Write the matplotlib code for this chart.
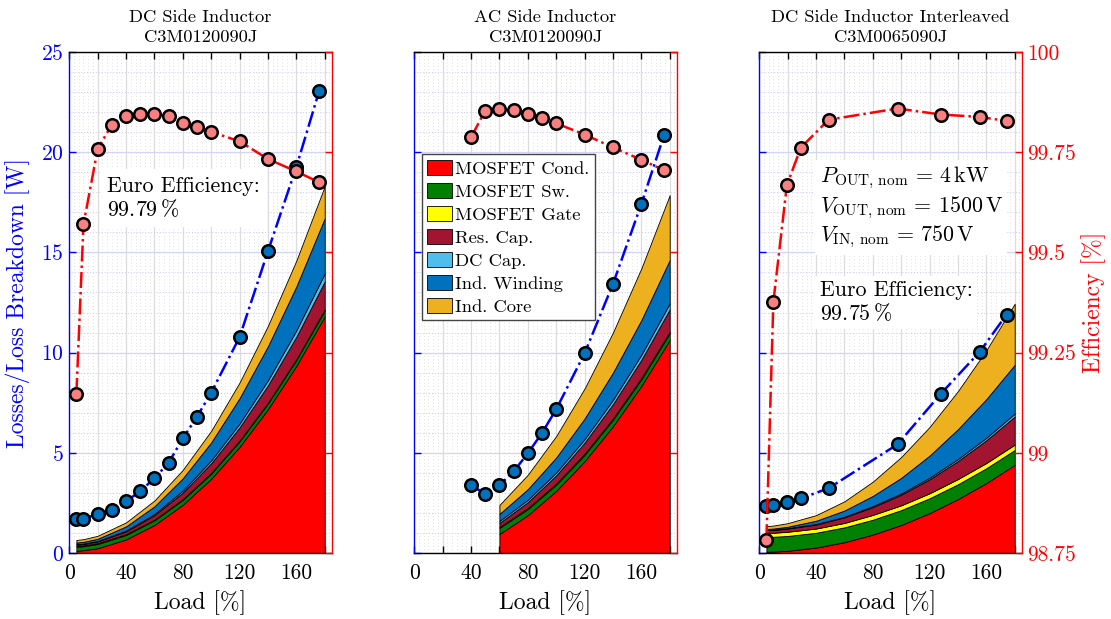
import numpy as np
import matplotlib
matplotlib.use('Agg')
import matplotlib.pyplot as plt
from matplotlib.ticker import MultipleLocator, FuncFormatter

plt.rcParams['font.family'] = ['cmr10', 'DejaVu Serif']
plt.rcParams['mathtext.fontset'] = 'cm'
plt.rcParams['axes.formatter.use_mathtext'] = True
plt.rcParams['axes.unicode_minus'] = False

# ---------------- data ----------------
components = ['MOSFET Cond.', 'MOSFET Sw.', 'MOSFET Gate', 'Res. Cap.',
              'DC Cap.', 'Ind. Winding', 'Ind. Core']
comp_colors = ['#FF0000', '#008000', '#FFFF00', '#A2142F',
               '#4DBEEE', '#0072BD', '#EDB120']

titles = ['DC Side Inductor\nC3M0120090J',
          'AC Side Inductor\nC3M0120090J',
          'DC Side Inductor Interleaved\nC3M0065090J']

# Panel 1 : DC side inductor
p1_load_meas = [5, 10, 20, 30, 40, 50, 60, 70, 80, 90, 100, 120, 140, 160, 176]
p1_losses = [1.71, 1.70, 1.95, 2.14, 2.57, 3.09, 3.73, 4.50, 5.72, 6.80, 8.00,
             10.77, 15.06, 19.26, 23.03]
p1_eff = [99.147, 99.570, 99.758, 99.819, 99.840, 99.846, 99.846, 99.840,
          99.822, 99.813, 99.801, 99.777, 99.733, 99.702, 99.675]
p1_load_stack = [5, 10, 20, 40, 60, 80, 100, 120, 140, 160, 180]
p1_cond = [0.11, 0.14, 0.24, 0.68, 1.40, 2.41, 3.71, 5.30, 7.18, 9.34, 11.80]
p1_sw = [0.20, 0.20, 0.21, 0.22, 0.23, 0.24, 0.25, 0.27, 0.28, 0.29, 0.30]
p1_gate = [0.04, 0.04, 0.04, 0.04, 0.04, 0.04, 0.04, 0.04, 0.04, 0.04, 0.05]
p1_rescap = [0.07, 0.07, 0.09, 0.14, 0.22, 0.33, 0.48, 0.66, 0.87, 1.12, 1.40]
p1_dccap = [0.02, 0.02, 0.02, 0.04, 0.06, 0.10, 0.14, 0.19, 0.25, 0.32, 0.40]
p1_wind = [0.08, 0.09, 0.11, 0.21, 0.38, 0.61, 0.90, 1.27, 1.70, 2.19, 2.75]
p1_core = [0.13, 0.13, 0.15, 0.20, 0.29, 0.42, 0.58, 0.78, 1.02, 1.29, 1.60]
p1_euro = 'Euro Efficiency:\n$99.79\\,\\%$'

# Panel 2 : AC side inductor
p2_load_meas = [40, 50, 60, 70, 80, 90, 100, 120, 140, 160, 176]
p2_losses = [3.40, 2.93, 3.38, 4.07, 4.97, 5.99, 7.17, 9.96, 13.42, 17.41, 20.85]
p2_eff = [99.787, 99.854, 99.859, 99.856, 99.845, 99.835, 99.822, 99.794,
          99.762, 99.731, 99.705]
p2_load_stack = [60, 80, 100, 120, 140, 160, 180]
p2_cond = [0.95, 1.89, 3.10, 4.58, 6.33, 8.34, 10.63]
p2_sw = [0.30, 0.305, 0.31, 0.315, 0.32, 0.325, 0.33]
p2_gate = [0.05, 0.053, 0.057, 0.06, 0.063, 0.067, 0.07]
p2_rescap = [0.20, 0.29, 0.41, 0.55, 0.72, 0.91, 1.13]
p2_dccap = [0.10, 0.12, 0.14, 0.175, 0.21, 0.25, 0.30]
p2_wind = [0.35, 0.53, 0.75, 1.03, 1.36, 1.73, 2.16]
p2_core = [0.45, 0.72, 1.07, 1.50, 2.00, 2.58, 3.24]

# Panel 3 : DC side inductor interleaved
p3_load_meas = [5, 9.9, 19.4, 29.2, 48.8, 97.4, 128, 155.5, 174.3]
p3_losses = [2.35, 2.41, 2.55, 2.72, 3.23, 5.42, 7.95, 10.05, 11.90]
p3_eff = [98.782, 99.376, 99.667, 99.761, 99.831, 99.859, 99.844, 99.838, 99.828]
p3_load_stack = [5, 10, 20, 40, 60, 80, 100, 120, 140, 160, 180]
p3_cond = [0.06, 0.07, 0.11, 0.27, 0.54, 0.92, 1.40, 1.99, 2.69, 3.49, 4.40]
p3_sw = [0.74, 0.74, 0.74, 0.74, 0.74, 0.74, 0.74, 0.74, 0.74, 0.74, 0.74]
p3_gate = [0.20, 0.20, 0.21, 0.21, 0.22, 0.24, 0.24, 0.25, 0.26, 0.26, 0.27]
p3_rescap = [0.14, 0.14, 0.16, 0.20, 0.28, 0.39, 0.53, 0.70, 0.90, 1.14, 1.40]
p3_dccap = [0.02, 0.02, 0.02, 0.03, 0.03, 0.05, 0.06, 0.08, 0.10, 0.12, 0.15]
p3_wind = [0.04, 0.05, 0.07, 0.16, 0.31, 0.51, 0.78, 1.10, 1.49, 1.93, 2.43]
p3_core = [0.14, 0.15, 0.18, 0.28, 0.46, 0.71, 1.04, 1.43, 1.90, 2.44, 3.05]
p3_specs = ('$P_{\\mathrm{OUT,\\,nom}}\\,=\\,4\\,\\mathrm{kW}$\n'
            '$V_{\\mathrm{OUT,\\,nom}}\\,=\\,1500\\,\\mathrm{V}$\n'
            '$V_{\\mathrm{IN,\\,nom}}\\,=\\,750\\,\\mathrm{V}$')
p3_euro = 'Euro Efficiency:\n$99.75\\,\\%$'

panels = [
    dict(lm=p1_load_meas, loss=p1_losses, eff=p1_eff, ls=p1_load_stack,
         stack=[p1_cond, p1_sw, p1_gate, p1_rescap, p1_dccap, p1_wind, p1_core]),
    dict(lm=p2_load_meas, loss=p2_losses, eff=p2_eff, ls=p2_load_stack,
         stack=[p2_cond, p2_sw, p2_gate, p2_rescap, p2_dccap, p2_wind, p2_core]),
    dict(lm=p3_load_meas, loss=p3_losses, eff=p3_eff, ls=p3_load_stack,
         stack=[p3_cond, p3_sw, p3_gate, p3_rescap, p3_dccap, p3_wind, p3_core]),
]

# ---------------- figure ----------------
W, H = 1111, 619
fig = plt.figure(figsize=(W / 100, H / 100), dpi=100)
lefts = [69.3, 414.3, 759.3]
ax_w = 262.5
ax_top, ax_bot = 52, 553

TICK_FS = 15.5
LABEL_FS = 17
TITLE_FS = 13.3
TEXT_FS = 15.8

for i, p in enumerate(panels):
    ax = fig.add_axes([lefts[i] / W, 1 - ax_bot / H, ax_w / W, (ax_bot - ax_top) / H])
    ax2 = ax.twinx()

    ax.set_xlim(0, 185)
    ax.set_ylim(0, 25)
    ax2.set_ylim(98.75, 100)

    # grid
    ax.set_axisbelow(True)
    ax.xaxis.set_major_locator(MultipleLocator(20))
    ax.xaxis.set_minor_locator(MultipleLocator(20 / 6))
    ax.yaxis.set_major_locator(MultipleLocator(5))
    ax.yaxis.set_minor_locator(MultipleLocator(1))
    ax2.yaxis.set_major_locator(MultipleLocator(0.25))
    ax.grid(which='major', axis='x', color='#dcdcdc', lw=0.9)
    ax.grid(which='major', axis='y', color='#d4d4f6', lw=0.9)
    ax.grid(which='minor', axis='x', color='#d6d6d6', lw=0.6, ls=(0, (1, 3)))
    ax.grid(which='minor', axis='y', color='#cacaf0', lw=0.7, ls=(0, (1, 2)))
    ax.tick_params(which='minor', length=0)

    ax.xaxis.set_major_formatter(FuncFormatter(
        lambda v, pos: f'{v:.0f}' if abs(v % 40) < 1e-6 else ''))
    ax2.yaxis.set_major_formatter(FuncFormatter(lambda v, pos: f'{v:g}'))

    ax.tick_params(axis='x', direction='in', top=True, length=5, width=1,
                   labelsize=TICK_FS, pad=7.5, colors='black')
    ax.tick_params(axis='y', direction='in', length=5, width=1,
                   labelsize=TICK_FS, colors='blue', pad=4)
    ax2.tick_params(axis='y', direction='in', length=5, width=1,
                    labelsize=TICK_FS, colors='red', pad=4)

    for s in ['top', 'bottom']:
        ax.spines[s].set_color('black')
    ax.spines['left'].set_color('blue')
    ax.spines['right'].set_visible(False)
    for s in ['left', 'top', 'bottom']:
        ax2.spines[s].set_visible(False)
    ax2.spines['right'].set_color('red')
    for sp in list(ax.spines.values()) + [ax2.spines['right']]:
        sp.set_linewidth(1.0)

    if i != 0:
        ax.tick_params(axis='y', labelleft=False)
    if i != 2:
        ax2.tick_params(axis='y', labelright=False)

    # stacked loss breakdown
    polys = ax.stackplot(p['ls'], *p['stack'], colors=comp_colors,
                         edgecolor='black', linewidth=0.6, zorder=2)

    # measured losses and efficiency
    ax.plot(p['lm'], p['loss'], ls='-.', color='#0000FF', lw=1.8,
            marker='o', ms=9, mfc='#0072BD', mec='black', mew=1.8, zorder=5)
    ax2.plot(p['lm'], p['eff'], ls='-.', color='#FF0000', lw=1.8,
             marker='o', ms=9, mfc='#F88080', mec='black', mew=1.8, zorder=5)

    ax.set_title(titles[i], fontsize=TITLE_FS, pad=7.5, linespacing=1.35)
    ax.set_xlabel('Load [%]', fontsize=LABEL_FS, labelpad=5)

    if i == 0:
        ax.set_ylabel('Losses/Loss Breakdown [W]', fontsize=LABEL_FS, color='blue')
        ax.yaxis.set_label_coords(-0.148, 0.5)
        ax2.text(26.5, 18.8, p1_euro, transform=ax.transData, fontsize=TEXT_FS,
                 ha='left', va='top', linespacing=1.15, zorder=10,
                 bbox=dict(facecolor='white', edgecolor='none', pad=5))
    if i == 1:
        leg = ax2.legend(polys, components, loc='upper left',
                         bbox_to_anchor=(0.028, 0.796), fontsize=13.4,
                         frameon=True, fancybox=False, framealpha=1,
                         edgecolor='#444444', handlelength=1.35,
                         handleheight=0.85, handletextpad=0.15,
                         labelspacing=0.33, borderpad=0.3, borderaxespad=0)
        leg.get_frame().set_linewidth(1.0)
        leg.set_zorder(20)
    if i == 2:
        ax2.set_ylabel('Efficiency [%]', fontsize=LABEL_FS, color='red')
        ax2.yaxis.set_label_coords(1.225, 0.5)
        ax2.text(42.5, 19.4, p3_specs, transform=ax.transData, fontsize=TEXT_FS,
                 ha='left', va='top', linespacing=1.2, zorder=10,
                 bbox=dict(facecolor='white', edgecolor='none', pad=3))
        ax2.text(42.5, 13.6, p3_euro, transform=ax.transData, fontsize=TEXT_FS,
                 ha='left', va='top', linespacing=1.15, zorder=10,
                 bbox=dict(facecolor='white', edgecolor='none', pad=3))

fig.savefig('out.png', dpi=100)
